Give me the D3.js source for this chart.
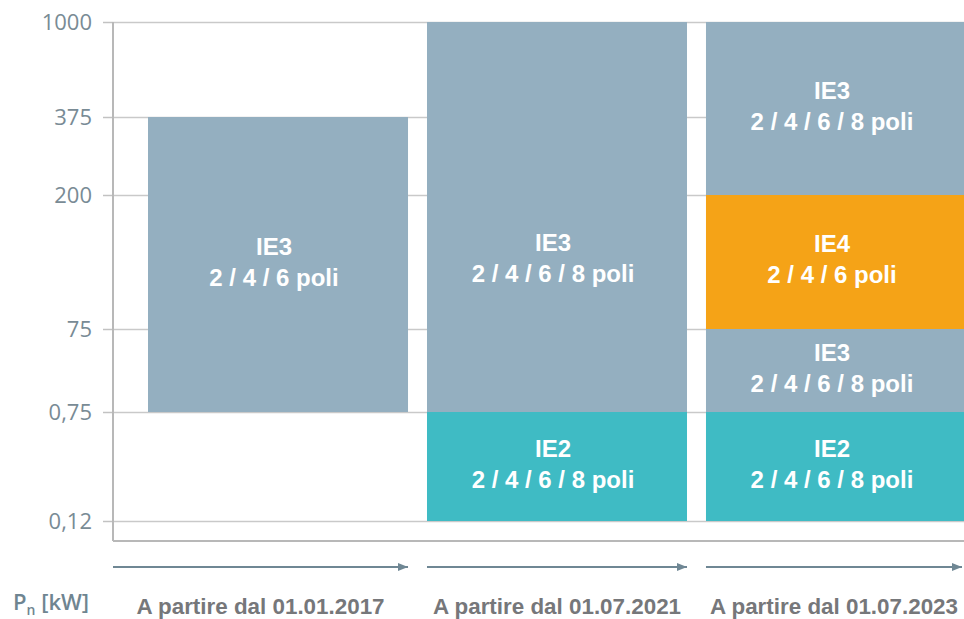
<!DOCTYPE html>
<html>
<head>
<meta charset="utf-8">
<script src="https://cdn.jsdelivr.net/npm/d3@7"></script>
<style>
body { margin: 0; background: #fff; }
</style>
</head>
<body>
<svg id="chart"></svg>
<script>
var width = 964
var height = 619

var periods = ["A partire dal 01.01.2017", "A partire dal 01.07.2021", "A partire dal 01.07.2023"]
var powerTicks = [0.12, 0.75, 75, 200, 375, 1000]
var tickLabels = ["0,12", "0,75", "75", "200", "375", "1000"]

// one entry per coloured block
var blockPeriod = [0, 1, 1, 2, 2, 2, 2]
var blockFrom = [0.75, 0.75, 0.12, 200, 75, 0.75, 0.12]
var blockTo = [375, 1000, 0.75, 1000, 200, 75, 0.75]
var blockClass = ["IE3", "IE3", "IE2", "IE3", "IE4", "IE3", "IE2"]
var blockPoles = ["2 / 4 / 6 poli", "2 / 4 / 6 / 8 poli", "2 / 4 / 6 / 8 poli", "2 / 4 / 6 / 8 poli",
    "2 / 4 / 6 poli", "2 / 4 / 6 / 8 poli", "2 / 4 / 6 / 8 poli"]
// power value where the label sits (null = middle of block)
var labelAt = [null, 138, null, null, null, null, null]

var classColors = {"IE2": "#3fbbc4", "IE3": "#94afc0", "IE4": "#f5a317"}

var axisX = 113
var bottomY = 541

var blocks = blockPeriod.map(function(p, i) {
    return {period: periods[p], from: blockFrom[i], to: blockTo[i], cls: blockClass[i],
        poles: blockPoles[i], at: labelAt[i]}
})

var svg = d3.select("#chart")
    .attr("width", width)
    .attr("height", height)

// the y axis is not linear: each threshold gets its own step
var y = d3.scaleLinear()
    .domain(powerTicks)
    .range([521, 412, 329, 195, 117, 22])

var x = d3.scaleBand()
    .domain(periods)
    .range([148, 966])
    .paddingInner(0.068)
    .paddingOuter(0)

// gridlines
var grid = svg.append("g")
    .attr("transform", "translate(" + axisX + ",0)")
    .call(d3.axisLeft(y).tickValues(powerTicks).tickSize(-(width - axisX)).tickFormat(""))
grid.select(".domain").remove()
grid.selectAll("line").attr("stroke", "#c9c9c9").attr("stroke-width", 1.5)

// blocks
svg.append("g")
    .selectAll("rect")
    .data(blocks)
    .enter()
    .append("rect")
        .attr("x", d => x(d.period))
        .attr("width", x.bandwidth())
        .attr("y", d => y(d.to))
        .attr("height", d => y(d.from) - y(d.to))
        .attr("fill", d => classColors[d.cls])

var labels = svg.append("g")
    .selectAll("text")
    .data(blocks)
    .enter()
    .append("text")
        .attr("text-anchor", "middle")
        .attr("fill", "#fff")
        .style("font-family", "Liberation Sans, Arial, sans-serif")
        .style("font-weight", "bold")
        .style("font-size", "24px")

labels.each(function(d) {
    var cx = x(d.period) + x.bandwidth() / 2 - 4
    var mid = d.at === null ? (y(d.from) + y(d.to)) / 2 : y(d.at)
    var t = d3.select(this)
    t.append("tspan").attr("x", cx).attr("y", mid - 10).text(d.cls)
    t.append("tspan").attr("x", cx).attr("y", mid + 21).text(d.poles)
})

// y axis ticks and labels
var yAxis = svg.append("g")
    .attr("transform", "translate(" + axisX + ",0)")
    .call(d3.axisLeft(y).tickValues(powerTicks).tickSize(10).tickPadding(11)
        .tickFormat((d, i) => tickLabels[i]))
yAxis.select(".domain").remove()
yAxis.selectAll("line").attr("stroke", "#c2c2c2").attr("stroke-width", 1.5)
yAxis.selectAll("text")
    .attr("fill", "#798b95")
    .attr("dy", "0.36em")
    .style("font-family", "Open Sans, sans-serif")
    .style("font-size", "22px")

// frame
svg.append("line")
    .attr("x1", axisX).attr("x2", axisX)
    .attr("y1", y(1000)).attr("y2", bottomY)
    .attr("stroke", "#b8b8b8").attr("stroke-width", 2)
svg.append("line")
    .attr("x1", axisX).attr("x2", width)
    .attr("y1", bottomY).attr("y2", bottomY)
    .attr("stroke", "#b8b8b8").attr("stroke-width", 2)

// time arrows
svg.append("defs").append("marker")
    .attr("id", "head")
    .attr("viewBox", "0 0 10 8")
    .attr("refX", 10).attr("refY", 4)
    .attr("markerWidth", 10).attr("markerHeight", 8)
    .attr("markerUnits", "userSpaceOnUse")
    .attr("orient", "auto")
    .append("path")
        .attr("d", "M0,0L10,4L0,8Z")
        .attr("fill", "#6f8794")

svg.append("g")
    .selectAll("line")
    .data(periods)
    .enter()
    .append("line")
        .attr("x1", (d, i) => i === 0 ? axisX : x(d))
        .attr("x2", d => Math.min(x(d) + x.bandwidth(), width - 2))
        .attr("y1", 567).attr("y2", 567)
        .attr("stroke", "#6f8794")
        .attr("stroke-width", 2)
        .attr("marker-end", "url(#head)")

svg.append("g")
    .selectAll("text")
    .data(periods)
    .enter()
    .append("text")
        .attr("x", (d, i) => ((i === 0 ? axisX : x(d)) + Math.min(x(d) + x.bandwidth(), width - 2)) / 2)
        .attr("y", 614)
        .attr("text-anchor", "middle")
        .attr("fill", "#76777a")
        .style("font-family", "Liberation Sans, Arial, sans-serif")
        .style("font-weight", "bold")
        .style("font-size", "22.4px")
        .text(d => d)

// unit label
var unit = svg.append("text")
    .attr("x", 13)
    .attr("y", 610)
    .attr("fill", "#6f8591")
    .style("font-family", "Open Sans, sans-serif")
    .style("font-weight", "600")
    .style("font-size", "22px")
unit.append("tspan").text("P")
unit.append("tspan").attr("dy", 5).style("font-size", "14px").text("n")
unit.append("tspan").attr("dy", -5).text(" [kW]")
</script>
</body>
</html>
